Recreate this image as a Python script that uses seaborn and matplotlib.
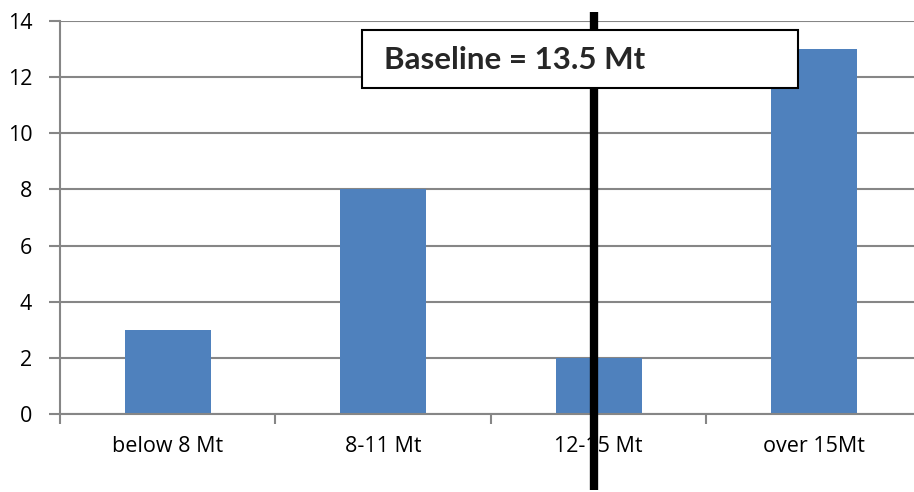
import matplotlib
matplotlib.use("Agg")
import matplotlib.pyplot as plt
from matplotlib.patches import Rectangle
import seaborn as sns
import pandas as pd

categories = ["below 8 Mt", "8-11 Mt", "12-15 Mt", "over 15Mt"]
counts = [3, 8, 2, 13]
y_ticks = [0, 2, 4, 6, 8, 10, 12, 14]
baseline_label = "Baseline = 13.5 Mt"
baseline_pos = 1.98  # position on the category axis

sns.set_style("white")
plt.rcParams["font.family"] = ["Open Sans", "DejaVu Sans"]

df = pd.DataFrame({"category": categories, "count": counts})

fig = plt.figure(figsize=(9.14, 4.92), dpi=100)
ax = fig.add_axes([60 / 914, 78 / 492, 862 / 914, 393 / 492])

sns.barplot(data=df, x="category", y="count", color="#4F81BD", saturation=1,
            width=0.4, linewidth=0, ax=ax, zorder=2)

grid_c = "#868686"
ax.set_ylim(0, 14)
ax.set_xlim(-0.5, 3.5)
ax.set_yticks(y_ticks)
ax.yaxis.grid(True, color=grid_c, linewidth=1.5, zorder=0)
ax.set_axisbelow(True)
for s in ["top", "right"]:
    ax.spines[s].set_visible(False)
ax.spines["left"].set_color(grid_c)
ax.spines["left"].set_linewidth(1.5)
ax.spines["bottom"].set_color(grid_c)
ax.spines["bottom"].set_linewidth(1.5)

ax.set_xlabel("")
ax.set_ylabel("")
ax.tick_params(axis="y", length=8, width=1.5, color=grid_c, pad=12,
               labelsize=15.5, labelcolor="black", left=True)
ax.tick_params(axis="x", which="major", length=0, pad=16, labelsize=15.5,
               labelcolor="black")
ax.set_xticks([-0.5, 0.5, 1.5, 2.5], minor=True)
ax.tick_params(axis="x", which="minor", length=7, width=1.5, color=grid_c,
               bottom=True, direction="out")

# baseline marker extending beyond the plot area
ax.plot([baseline_pos, baseline_pos], [-2.7, 14.32], color="black",
        linewidth=6, solid_capstyle="butt", clip_on=False, zorder=4)

# label box
box = Rectangle((302 / 862, 326 / 393), 436 / 862, 58 / 393,
                transform=ax.transAxes, facecolor="white", edgecolor="black",
                linewidth=1.5, zorder=5, clip_on=False)
ax.add_patch(box)
ax.text(324 / 862, 354 / 393, baseline_label, transform=ax.transAxes,
        ha="left", va="center", fontsize=22.5, fontweight="bold",
        family=["Lato", "DejaVu Sans"], zorder=6)

fig.savefig("out.png", dpi=100)
